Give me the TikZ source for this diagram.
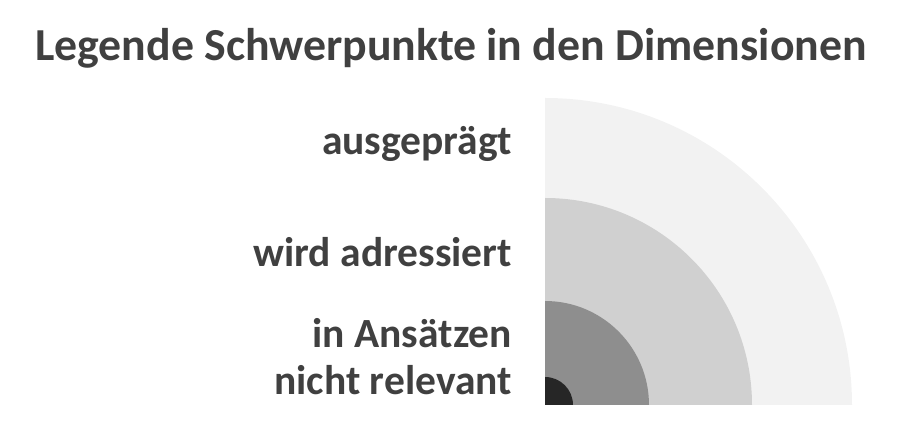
\documentclass[tikz,border=0pt]{standalone}
\usepackage{fontspec}
\setmainfont{Carlito}
\begin{document}
\begin{tikzpicture}[x=1pt,y=1pt,
  lbl/.style={anchor=base east, inner sep=0pt, text=txtgray, font=\bfseries\fontsize{41.5}{48}\selectfont},
  ttl/.style={anchor=base, inner sep=0pt, text=txtgray, font=\bfseries\fontsize{45.8}{54}\selectfont}]
\definecolor{txtgray}{HTML}{404040}
\definecolor{ring1}{HTML}{F2F2F2}
\definecolor{ring2}{HTML}{D0D0D0}
\definecolor{ring3}{HTML}{8E8E8E}
\definecolor{ring4}{HTML}{262626}
\useasboundingbox (0,0) rectangle (906,447);
\coordinate (o) at (545,42);
\fill[ring1] (o) -- ++(307,0) arc[start angle=0,end angle=90,radius=307] -- cycle;
\fill[ring2] (o) -- ++(207,0) arc[start angle=0,end angle=90,radius=207] -- cycle;
\fill[ring3] (o) -- ++(104,0) arc[start angle=0,end angle=90,radius=104] -- cycle;
\fill[ring4] (o) -- ++(28,0) arc[start angle=0,end angle=90,radius=28] -- cycle;
\node[ttl] (title) at (451,386) {Legende Schwerpunkte in den Dimensionen};
\node[lbl] (l1) at (512,292) {ausgeprägt};
\node[lbl] (l2) at (512,180) {wird adressiert};
\node[lbl] (l3) at (512,99) {in Ansätzen};
\node[lbl] (l4) at (512,52) {nicht relevant};
\end{tikzpicture}
\end{document}
